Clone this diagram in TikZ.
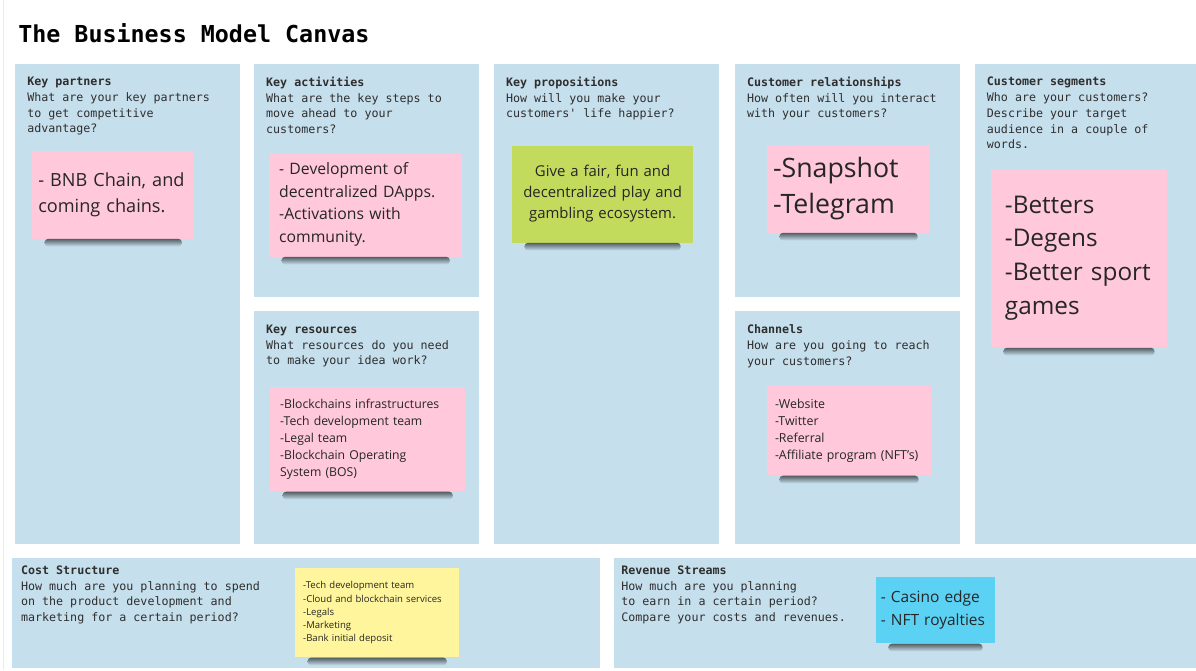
\documentclass[tikz,border=0pt]{standalone}
\usepackage{fontspec}
\setmainfont{Open Sans}
\setmonofont{DejaVu Sans Mono}
\usetikzlibrary{positioning}
\hyphenpenalty=10000

\definecolor{panelblue}{HTML}{C6DFEC}
\definecolor{notepink}{HTML}{FFC8DB}
\definecolor{notegreen}{HTML}{C2DB5C}
\definecolor{noteyellow}{HTML}{FFF59C}
\definecolor{notecyan}{HTML}{5BD1F4}
\definecolor{inkgrey}{HTML}{2E2E2E}

\begin{document}
\begin{tikzpicture}[x=0.025cm, y=-0.025cm,
  panel/.style={rectangle, fill=panelblue, anchor=north west, inner sep=0pt, minimum width=5.625cm},
  head/.style={anchor=north west, inner sep=0pt, align=left, text=inkgrey, font=\ttfamily\fontsize{8.3}{11.3}\selectfont},
  sticky/.style={rectangle, anchor=north west, inner xsep=0.15cm, inner ysep=0pt, align=left, text=black!85},
  noteshadow/.style={rounded corners=2.5pt, top color=black!58!panelblue, bottom color=panelblue}]
  % Canvas
  \fill[white] (0,0) rectangle (1196,670);
  \draw[black!8] (3,0) -- (3,670);
  \node[anchor=base west, inner sep=0pt, font=\ttfamily\bfseries\fontsize{16.6}{20}\selectfont] (title) at (18,42) {The Business Model Canvas};

  % Panels
  \node[panel, minimum height=12.025cm] (kp) at (15,63) {};
  \node[panel, minimum height=5.825cm] (ka) at (254,63) {};
  \node[panel, minimum height=5.825cm] (kr) at (254,311) {};
  \node[panel, minimum height=12.025cm] (vp) at (494,63) {};
  \node[panel, minimum height=5.825cm] (cr) at (735,63) {};
  \node[panel, minimum height=5.825cm] (ch) at (735,311) {};
  \node[panel, minimum width=5.525cm, minimum height=12.025cm] (cs) at (975,63) {};
  \node[panel, minimum width=14.7cm, minimum height=2.75cm] (cost) at (12,558) {};
  \node[panel, minimum width=14.55cm, minimum height=2.75cm] (rev) at (614,558) {};

  % Panel headings
  \node[head] (kpHead) at ([xshift=0.3cm, yshift=-0.33cm]kp.north west) {\textbf{Key partners}\\What are your key partners\\to get competitive\\advantage?};
  \node[head] (kaHead) at ([xshift=0.3cm, yshift=-0.33cm]ka.north west) {\textbf{Key activities}\\What are the key steps to\\move ahead to your\\customers?};
  \node[head] (krHead) at ([xshift=0.3cm, yshift=-0.33cm]kr.north west) {\textbf{Key resources}\\What resources do you need\\to make your idea work?};
  \node[head] (vpHead) at ([xshift=0.3cm, yshift=-0.33cm]vp.north west) {\textbf{Key propositions}\\How will you make your\\customers' life happier?};
  \node[head] (crHead) at ([xshift=0.3cm, yshift=-0.33cm]cr.north west) {\textbf{Customer relationships}\\How often will you interact\\with your customers?};
  \node[head] (chHead) at ([xshift=0.3cm, yshift=-0.33cm]ch.north west) {\textbf{Channels}\\How are you going to reach\\your customers?};
  \node[head] (csHead) at ([xshift=0.3cm, yshift=-0.33cm]cs.north west) {\textbf{Customer segments}\\Who are your customers?\\Describe your target\\audience in a couple of\\words.};
  \node[head] (costHead) at ([xshift=0.22cm, yshift=-0.18cm]cost.north west) {\textbf{Cost Structure}\\How much are you planning to spend\\on the product development and\\marketing for a certain period?};
  \node[head] (revHead) at ([xshift=0.18cm, yshift=-0.18cm]rev.north west) {\textbf{Revenue Streams}\\How much are you planning\\to earn in a certain period?\\Compare your costs and revenues.};

  % Sticky notes
  \node[sticky, fill=notepink, text width=3.75cm, minimum height=2.2cm, font=\fontsize{12.9}{18.4}\selectfont] (kpNote) at (32,150) {- BNB Chain, and\\coming chains.};
  \node[sticky, fill=notepink, text width=4.325cm, inner xsep=0.25cm, minimum height=2.6cm, font=\fontsize{11.2}{16}\selectfont] (kaNote) at (269,152) {- Development of\\decentralized DApps.\\-Activations with\\community.};
  \node[sticky, fill=notepink, text width=4.375cm, inner xsep=0.25cm, minimum height=2.6cm, font=\fontsize{8.7}{12}\selectfont] (krNote) at (270,387) {-Blockchains infrastructures\\-Tech development team\\-Legal team\\-Blockchain Operating\\System (BOS)};
  \node[sticky, fill=notegreen, text width=4.225cm, minimum height=2.425cm, align=center, font=\fontsize{10.6}{14.9}\selectfont] (vpNote) at (512,145) {Give a fair, fun and\\decentralized play and\\gambling ecosystem.};
  \node[sticky, fill=notepink, text width=3.775cm, minimum height=2.2cm, font=\fontsize{19}{26}\selectfont] (crNote) at (767,144) {-Snapshot\\-Telegram};
  \node[sticky, fill=notepink, text width=3.7cm, inner xsep=0.2cm, minimum height=2.225cm, font=\fontsize{8.8}{12}\selectfont] (chNote) at (767,386) {-Website\\-Twitter\\-Referral\\-Affiliate program (NFT's)};
  \node[sticky, fill=notepink, text width=3.7cm, inner xsep=0.35cm, minimum height=4.475cm, font=\fontsize{17.3}{24}\selectfont] (csNote) at (991,168) {-Betters\\-Degens\\-Better sport\\games};
  \node[sticky, fill=noteyellow, text width=3.7cm, inner xsep=0.2cm, minimum height=2.225cm, font=\fontsize{6.8}{9.4}\selectfont] (costNote) at (295,568) {-Tech development team\\-Cloud and blockchain services\\-Legals\\-Marketing\\-Bank initial deposit};
  \node[sticky, fill=notecyan, text width=2.735cm, inner xsep=0.12cm, minimum height=1.65cm, font=\fontsize{11}{16.3}\selectfont] (revNote) at (876,577) {- Casino edge\\- NFT royalties};

  % Shadows under the notes
  \foreach \n in {kpNote, kaNote, krNote, vpNote, crNote, chNote, csNote, costNote, revNote}
    \shade[noteshadow] ([xshift=9pt]\n.south west) rectangle ([xshift=-9pt, yshift=-5.5pt]\n.south east);
\end{tikzpicture}
\end{document}
